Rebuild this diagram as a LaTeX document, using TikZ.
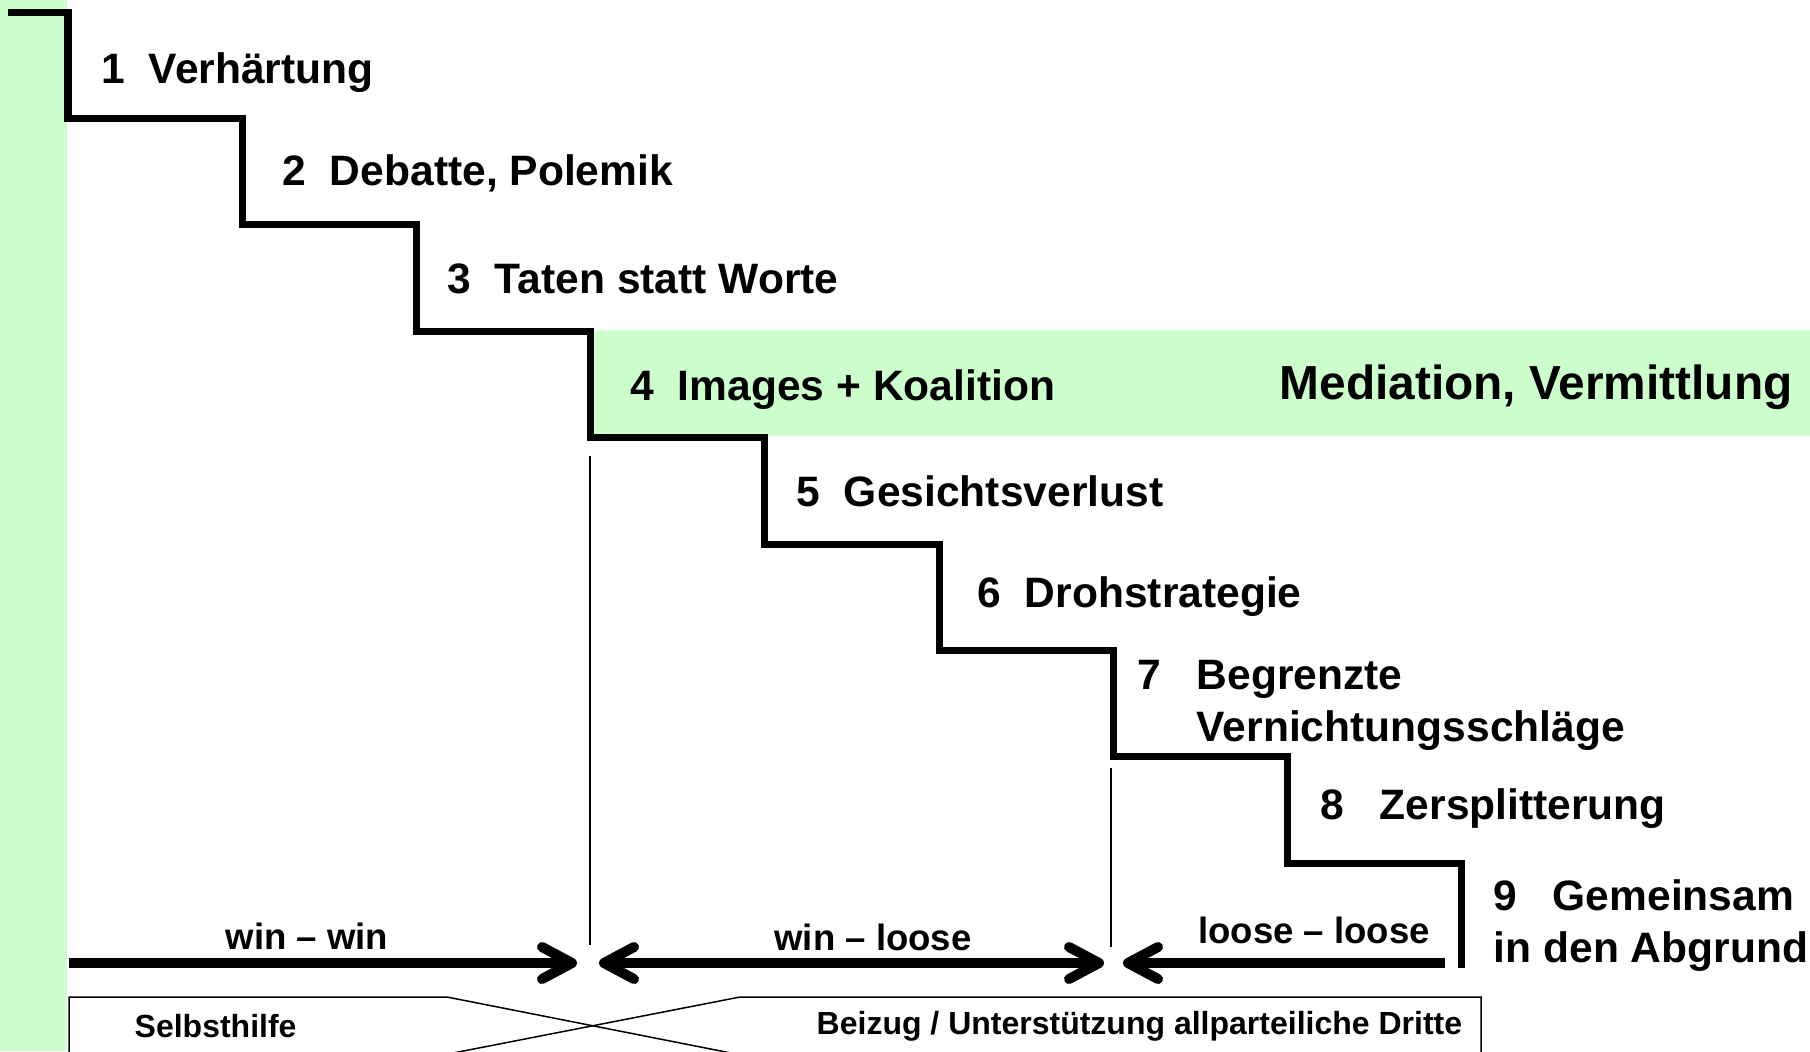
\documentclass[tikz,border=0pt]{standalone}
\usepackage{fontspec}
\setmainfont{Liberation Sans}
\usepackage{xcolor}
\usepackage{tikz}
\usetikzlibrary{
		arrows.meta,
		backgrounds
	}
\definecolor{mediation-green}{HTML}{CCFFCC}
\tikzset{%
		every text node part/.style = {
			align = left
		},
		stufe/.style = {
			anchor = west,
			inner sep = 0pt,
			font = \fontsize{12.1}{14.8}\selectfont\bfseries
		},
		treppe/.style = {%
			draw,
			line width = 0.7mm,
			line join = miter
		},
		spitze/.tip = {Straight Barb[length=3mm, width=3.2mm, round]},
		pfeil/.style = {%
			line width = 1mm,
			-spitze
		},
		pfeilbeide/.style = {%
			line width = 1mm,
			spitze-spitze
		},
		pfeiltext/.style = {%
			inner sep = 0pt,
			font = \fontsize{10.4}{12}\selectfont\bfseries
		},
		trennlinie/.style = {%
			line width = 0.2mm
		},
		feld/.style = {%
			line width = 0.15mm
		},
		feldtext/.style = {%
			anchor = west,
			inner sep = 0pt,
			font = \fontsize{9.1}{11}\selectfont\bfseries
		}
	}

\begin{document}
\begin{tikzpicture}[x = 0.01cm, y = -0.01cm]
		\useasboundingbox (0, 0) rectangle (1810, 1051);
		% Flaechen
		\fill [mediation-green] (0, 0) rectangle (67, 1051);
		\fill [mediation-green] (590, 330) rectangle (1810, 436);

		% Treppe
		\draw [treppe] (8, 12) -- (68, 12)
			\foreach \k in {1,...,8} { -- ++(0, 106.4) -- ++(174.2, 0) }
			-- ++(0, 105);

		\node [stufe] (stufe1) at (101, 73) {1~~Verhärtung};
		\node [stufe] (stufe2) at (282, 173) {2~~Debatte, Polemik};
		\node [stufe] (stufe3) at (447, 279) {3~~Taten statt Worte};
		\node [stufe] (stufe4) at (630, 390) {4~~Images + Koalition};
		\node [stufe, font = \fontsize{13.6}{16}\selectfont\bfseries]
			(mediation) at (1279, 387) {Mediation, Vermittlung};
		\node [stufe] (stufe5) at (796, 491) {5~~Gesichtsverlust};
		\node [stufe] (stufe6) at (977, 597) {6~~Drohstrategie};
		\node [stufe] (stufe7) at (1137, 705) {7~~~Begrenzte\\\phantom{7~~~}Vernichtungsschläge};
		\node [stufe] (stufe8) at (1320, 809) {8~~~Zersplitterung};
		\node [stufe] (stufe9) at (1493, 926) {9~~~Gemeinsam\\in den Abgrund};

		% Trennlinien
		\coordinate (trenn1-oben) at (590, 456);
		\coordinate (trenn1-unten) at (590, 945);
		\coordinate (trenn2-oben) at (1111, 768);
		\coordinate (trenn2-unten) at (1111, 947);
		\draw [trennlinie] (trenn1-oben) -- (trenn1-unten);
		\draw [trennlinie] (trenn2-oben) -- (trenn2-unten);

		% Pfeile
		\coordinate (winwin-a) at (69, 963);
		\coordinate (winwin-b) at (577, 963);
		\coordinate (winloose-a) at (599, 963);
		\coordinate (winloose-b) at (1104, 963);
		\coordinate (looseloose-a) at (1445, 963);
		\coordinate (looseloose-b) at (1123, 963);
		\draw [pfeil] (winwin-a) -- (winwin-b);
		\draw [pfeilbeide] (winloose-a) -- (winloose-b);
		\draw [pfeil] (looseloose-a) -- (looseloose-b);

		\node [pfeiltext] (winwin) at (307, 936) {win – win};
		\node [pfeiltext] (winloose) at (873, 937) {win – loose};
		\node [pfeiltext] (looseloose) at (1314, 930) {loose – loose};

		% Felder unten
		\draw [feld] (69, 1060) -- (69, 997) -- (447, 997) -- (736, 1054);
		\draw [feld] (448, 1054) -- (740, 997) -- (1481, 997) -- (1481, 1060);
		\node [feldtext] (selbsthilfe) at (134, 1026) {Selbsthilfe};
		\node [feldtext] (dritte) at (816, 1026) {Beizug / Unterstützung allparteiliche Dritte};
	\end{tikzpicture}
\end{document}
